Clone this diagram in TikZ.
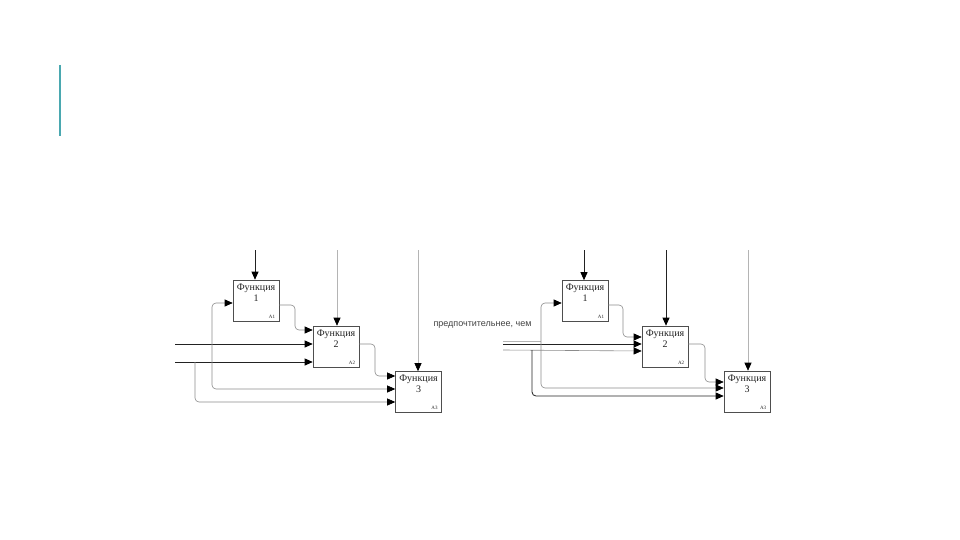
\documentclass[tikz,border=0pt]{standalone}
\usepackage{fontspec}
\setmainfont{Liberation Serif}
\newfontfamily\sansf{Liberation Sans}
\usetikzlibrary{arrows.meta}
\definecolor{teal1}{HTML}{4AA8B0}
\definecolor{darkln}{HTML}{222222}
\definecolor{grayln}{HTML}{8C8C8C}
\definecolor{lightln}{HTML}{B4B4B4}
\tikzset{
  fbox/.style={draw=darkln!80, line width=0.6pt, minimum width=46pt, minimum height=41pt, inner sep=0pt, fill=white},
  ftxt/.style={font=\fontsize{10}{11}\selectfont, align=center, inner sep=1pt, text=darkln},
  lbl/.style={font=\fontsize{5}{5}\selectfont, inner sep=0pt, text=darkln},
  tip/.style={-{Triangle[length=8pt,width=7pt,color=black]}},
  dk/.style={draw=darkln, line width=0.8pt, tip, rounded corners=4pt},
  gr/.style={draw=grayln, line width=0.6pt, tip, rounded corners=4pt},
  lt/.style={draw=lightln, line width=0.6pt, tip, rounded corners=4pt},
}
\begin{document}
\begin{tikzpicture}[x=1pt,y=-1pt]
\useasboundingbox (0,0) rectangle (960,540);
\fill[white] (0,0) rectangle (960,540);
% accent line
\coordinate (t1) at (60,65); \coordinate (t2) at (60,136);
\draw[teal1, line width=2pt] (t1) -- (t2);

% ---------- left diagram ----------
\node[fbox] (L1) at (256,300.5) {};
\node[fbox] (L2) at (336,346.5) {};
\node[fbox] (L3) at (418.5,392) {};
\foreach \b/\n/\a in {L1/1/A1,L2/2/A2,L3/3/A3}{
  \node[ftxt, anchor=north] at ([yshift=-3pt]\b.north) {Функция\\\n};
  \node[lbl, anchor=south east] at ([shift={(-4pt,3pt)}]\b.south east) {\a};
}
\coordinate (lc1) at (255,250);
\coordinate (lc2) at (337,250);
\coordinate (lc3) at (418,250);
\draw[dk] (lc1) -- (lc1 |- L1.north);
\draw[lt] (lc2) -- (lc2 |- L2.north);
\draw[lt] (lc3) -- (lc3 |- L3.north);

\coordinate (lA) at (175,344);
\coordinate (lB) at (175,362);
\coordinate (jA) at (212,344);
\coordinate (jB) at (195,362);
\draw[dk] (lA) -- (L2.west |- lA);
\draw[dk] (lB) -- (L2.west |- lB);
\draw[gr] (jA) -- (212,303) -- (L1.west |- 0,303);
\draw[gr] (jA) -- (212,389) -- (L3.west |- 0,389);
\draw[gr] (jB) -- (195,402) -- (L3.west |- 0,402);
\draw[gr] (L1.east |- 0,305) -- (295,305) -- (295,330) -- (L2.west |- 0,330);
\draw[gr] (L2.east |- 0,344) -- (375,344) -- (375,376) -- (L3.west |- 0,376);

% middle text
\node[font=\sansf\fontsize{9}{10}\selectfont, text=darkln!85, inner sep=0pt] (mid) at (482.5,325) {предпочтительнее, чем};

% ---------- right diagram ----------
\node[fbox] (R1) at (585,301) {};
\node[fbox] (R2) at (665,346.5) {};
\node[fbox] (R3) at (747,391.5) {};
\foreach \b/\n/\a in {R1/1/A1,R2/2/A2,R3/3/A3}{
  \node[ftxt, anchor=north] at ([yshift=-3pt]\b.north) {Функция\\\n};
  \node[lbl, anchor=south east] at ([shift={(-4pt,3pt)}]\b.south east) {\a};
}
\coordinate (rc1) at (584,250);
\coordinate (rc2) at (666,250);
\coordinate (rc3) at (748,250);
\draw[dk] (rc1) -- (rc1 |- R1.north);
\draw[dk] (rc2) -- (rc2 |- R2.north);
\draw[lt] (rc3) -- (rc3 |- R3.north);

\coordinate (rA) at (503,344);
\coordinate (rB) at (503,350);
\coordinate (kA) at (541,344);
\coordinate (kB) at (532,350);
\draw[draw=lightln, line width=0.5pt] (503,341) -- (541,341);
\draw[dk] (rA) -- (R2.west |- rA);
\draw[gr] (rB) -- (R2.west |- 0,351);
\draw[gr] (kA) -- (541,303) -- (R1.west |- 0,303);
\draw[gr] (kA) -- (541,388) -- (R3.west |- 0,388);
\draw[dk] (kB) -- (532,396) -- (R3.west |- 0,396);
\draw[gr] (R1.east |- 0,305) -- (623,305) -- (623,337) -- (R2.west |- 0,337);
\draw[gr] (R2.east |- 0,344) -- (705,344) -- (705,382) -- (R3.west |- 0,382);
\end{tikzpicture}
\end{document}
